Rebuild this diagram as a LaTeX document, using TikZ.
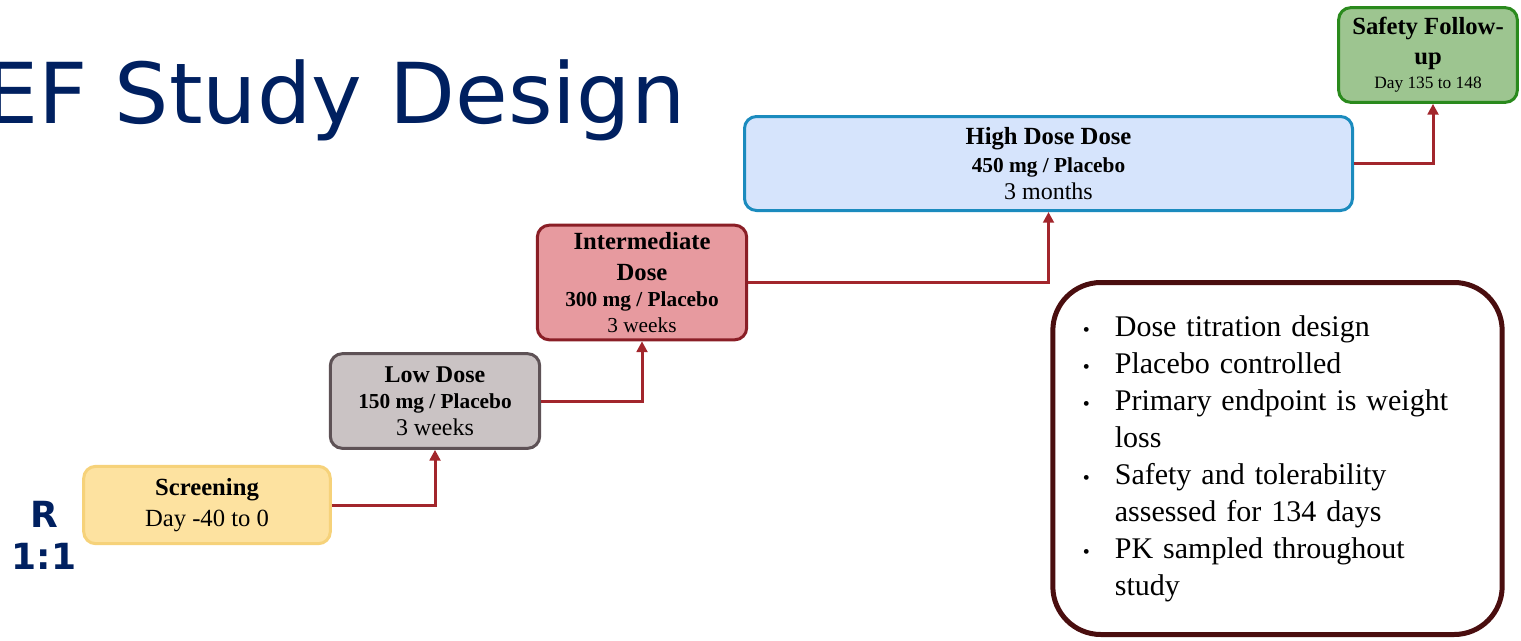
\documentclass[tikz,border=0pt]{standalone}
\usepackage{fontspec}
\setmainfont{Liberation Serif}
\newfontfamily\titlefont[FakeStretch=1.02]{DejaVu Sans}
\newfontfamily\ratiofont{DejaVu Sans}
\usetikzlibrary{arrows.meta}

\definecolor{titleblue}{HTML}{002060}
\definecolor{linkred}{HTML}{A2262C}
\definecolor{scrfill}{HTML}{FDE2A0}
\definecolor{scrline}{HTML}{F6D27A}
\definecolor{lowfill}{HTML}{CAC3C4}
\definecolor{lowline}{HTML}{5E5256}
\definecolor{midfill}{HTML}{E79A9F}
\definecolor{midline}{HTML}{8A1E26}
\definecolor{highfill}{HTML}{D6E4FC}
\definecolor{highline}{HTML}{1B8BBE}
\definecolor{safefill}{HTML}{9DC590}
\definecolor{safeline}{HTML}{2A8A1D}
\definecolor{noteline}{HTML}{4A0E0F}

\tikzset{
  stage/.style={draw, line width=2.25pt, rounded corners=9pt, align=center, inner sep=0pt},
  link/.style={draw=linkred, line width=2.25pt, -{Triangle[length=8pt,width=8pt]}},
  notebox/.style={draw=noteline, line width=3.75pt, rounded corners=36pt, fill=white,
    text width=292pt, align=left, inner xsep=22.5pt, inner ysep=0pt}
}

\newcommand{\bul}{\makebox[24pt][l]{\fontsize{15}{15}\selectfont\textbullet}}
\newcommand{\cont}{\hspace*{24pt}}

\begin{document}
\begin{tikzpicture}[x=0.75pt,y=-0.75pt]
  \useasboundingbox (0,0) rectangle (1521,640);

  \node[anchor=base west, inner sep=0pt, text=titleblue,
        font=\titlefont\fontsize{63}{70}\selectfont] (title) at (-16,123) {EF Study Design};
  \node[align=center, inner sep=0pt, text=titleblue,
        font=\ratiofont\bfseries\fontsize{27}{31.5}\selectfont] (ratio) at (44,535) {R\\1:1};

  \node[stage, draw=scrline, fill=scrfill, minimum width=185pt, minimum height=58pt,
        font=\fontsize{18.5}{23}\selectfont] (scr) at (207,505)
        {\textbf{Screening}\\Day -40 to 0};
  \node[stage, draw=lowline, fill=lowfill, minimum width=157pt, minimum height=71pt,
        font=\fontsize{18}{20}\selectfont] (low) at (435,401)
        {\textbf{Low Dose}\\{\bfseries\fontsize{16}{20}\selectfont 150 mg / Placebo}\\3 weeks};
  \node[stage, draw=midline, fill=midfill, minimum width=157pt, minimum height=86pt,
        font=\fontsize{18.5}{23}\selectfont] (mid) at (642,282.5)
        {\textbf{Intermediate}\\\textbf{Dose}\\[-3.5pt]{\bfseries\fontsize{16}{20}\selectfont 300 mg / Placebo}\\[-3.5pt]{\fontsize{16}{20}\selectfont 3 weeks}};
  \node[stage, draw=highline, fill=highfill, minimum width=456pt, minimum height=70.5pt,
        font=\fontsize{18.5}{21.5}\selectfont] (high) at (1048.5,163.5)
        {\textbf{High Dose Dose}\\{\bfseries\fontsize{16}{20}\selectfont 450 mg / Placebo}\\[-1.5pt]{\fontsize{18}{20}\selectfont 3 months}};
  \node[stage, draw=safeline, fill=safefill, minimum width=134pt, minimum height=71pt,
        font=\fontsize{18.5}{22.5}\selectfont] (safe) at (1428,55)
        {\textbf{Safety Follow-}\\\textbf{up}\\[-4.5pt]{\fontsize{13}{15}\selectfont Day 135 to 148}};

  \draw[link] (scr.east) -| (low.south);
  \draw[link] (low.east) -| (mid.south);
  \draw[link] (mid.east) -| (high.south);
  \draw[link] (high.east) -| ([xshift=3.75pt]safe.south);

  \node[notebox, minimum height=264pt, font=\fontsize{22.5}{27.75}\selectfont] (notes) at (1277.5,458.5)
    {\bul Dose titration design\\
     \bul Placebo controlled\\
     \bul Primary endpoint is weight\\
     \cont loss\\
     \bul Safety and tolerability\\
     \cont assessed for 134 days\\
     \bul PK sampled throughout\\
     \cont study};
\end{tikzpicture}
\end{document}
